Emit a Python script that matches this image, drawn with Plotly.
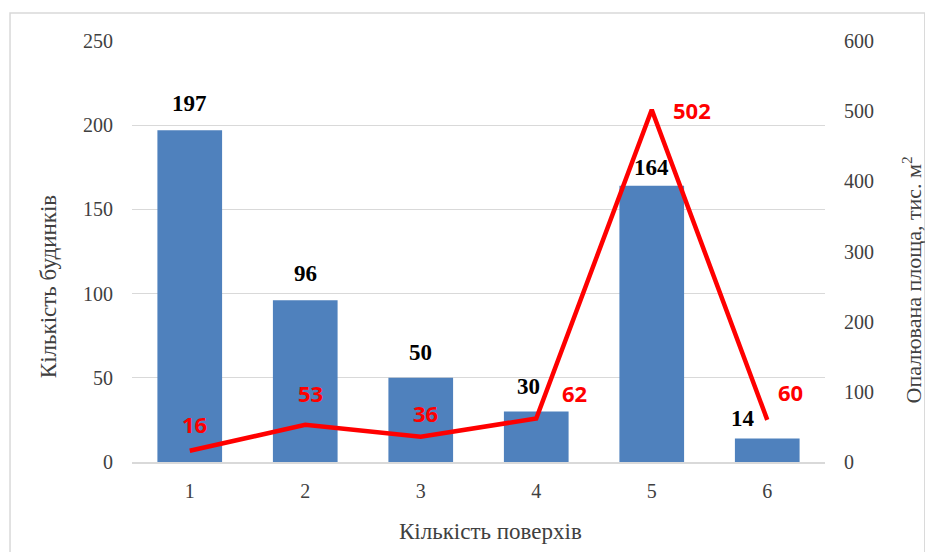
import plotly.graph_objects as go

floors = [1, 2, 3, 4, 5, 6]
buildings = [197, 96, 50, 30, 164, 14]
area = [16, 53, 36, 62, 502, 60]

bar_lbl_dx = [0, 0, 0, -8, 0, -24]
bar_lbl_dy = [12, 12, 11, 10, 4, 5]
line_lbl_dx = [5, 5, 5, 38, 40, 23]
line_lbl_dy = [27, 32, 24, 26, 0, 28]

SERIF = "Liberation Serif"
SANS = "Open Sans"
GREY = "#404040"

fig = go.Figure()
fig.add_trace(go.Bar(
    x=floors, y=buildings, width=0.56,
    marker=dict(color="#4F81BD", line=dict(width=0)),
    name="Кількість будинків",
))
fig.add_trace(go.Scatter(
    x=floors, y=area, yaxis="y2", mode="lines",
    line=dict(color="#FF0000", width=4.5), name="Опалювана площа",
))
for x, v, dx, dy in zip(floors, buildings, bar_lbl_dx, bar_lbl_dy):
    fig.add_annotation(
        x=x, y=v, xref="x", yref="y", text=f"<b>{v}</b>", showarrow=False,
        yanchor="bottom", xshift=dx, yshift=dy,
        font=dict(family=SERIF, size=23, color="#000000"),
    )
for x, v, dx, dy in zip(floors, area, line_lbl_dx, line_lbl_dy):
    fig.add_annotation(
        x=x, y=v, xref="x", yref="y2", text=f"<b>{v}</b>", showarrow=False,
        xshift=dx, yshift=dy, font=dict(family=SANS, size=22, color="#FF0000"),
    )

# axis titles
fig.add_annotation(x=-0.121, y=0.418, xref="paper", yref="paper", showarrow=False,
                   xanchor="center", yanchor="middle",
                   text="Кількість будинків", textangle=-90,
                   font=dict(family=SERIF, size=23, color=GREY))
fig.add_annotation(x=1.126, y=0.432, xref="paper", yref="paper", showarrow=False,
                   xanchor="center", yanchor="middle",
                   text="Опалювана площа, тис. м<sup>2</sup>", textangle=-90,
                   font=dict(family=SERIF, size=22, color=GREY))
fig.add_annotation(x=0.517, y=-0.166, xref="paper", yref="paper", showarrow=False,
                   xanchor="center", yanchor="middle",
                   text="Кількість поверхів",
                   font=dict(family=SERIF, size=23, color=GREY))

fig.add_shape(type="rect", xref="paper", yref="paper",
              x0=-0.176, x1=1.144, y0=-0.223, y1=1.0665,
              line=dict(color="#D9D9D9", width=1.5), layer="below")

fig.update_layout(
    width=925, height=544,
    margin=dict(l=124, r=108, t=33, b=90),
    paper_bgcolor="white", plot_bgcolor="white",
    font=dict(family=SERIF, color=GREY),
    showlegend=False, bargap=0.44,
    xaxis=dict(
        tickmode="array", tickvals=floors, ticktext=[str(f) for f in floors],
        range=[0.5, 6.5], showgrid=False, showline=True, linecolor="#D9D9D9",
        linewidth=1.5, ticks="", tickfont=dict(family=SERIF, size=20, color=GREY),
        ticklabelstandoff=10,
    ),
    yaxis=dict(
        range=[0, 250], dtick=50, showgrid=True, gridcolor="#D9D9D9", gridwidth=1,
        zeroline=False, showline=False, ticks="",
        tickfont=dict(family=SERIF, size=20, color=GREY),
        ticklabelstandoff=18,
    ),
    yaxis2=dict(
        range=[0, 600], dtick=100, overlaying="y", side="right",
        showgrid=False, zeroline=False, showline=False, ticks="",
        tickfont=dict(family=SERIF, size=20, color=GREY),
        ticklabelstandoff=18,
    ),
)

fig.write_html("out.html")
